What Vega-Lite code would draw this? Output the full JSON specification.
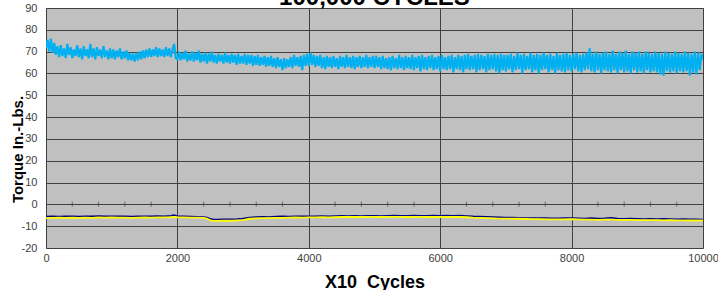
{
  "$schema": "https://vega.github.io/schema/vega-lite/v6.json",
  "autosize": {"type": "none"},
  "width": 657,
  "height": 240,
  "padding": {"left": 46, "top": 8, "right": 15, "bottom": 42},
  "background": "white",
  "title": {"text": "100,000 CYCLES", "font": "Liberation Sans", "fontSize": 24, "fontWeight": "bold", "color": "black", "anchor": "middle", "frame": "group", "baseline": "alphabetic", "offset": -2, "dy": 25},
  "config": {
    "view": {"fill": "#C0C0C0", "stroke": "#808080", "strokeWidth": 1},
    "axis": {"labelFont": "Liberation Sans", "labelFontSize": 11, "labelColor": "#404040", "titleFont": "Liberation Sans", "titleColor": "black", "gridColor": "#404040", "gridOpacity": 1, "gridWidth": 1, "domain": false, "ticks": false, "labelOverlap": false, "labelFlush": false}
  },
  "datasets": {
    "blue": [
{"x":0,"y":71.5},{"x":25,"y":75.5},{"x":50,"y":70.0},{"x":75,"y":76.0},{"x":100,"y":69.5},{"x":125,"y":74.0},{"x":150,"y":68.5},{"x":175,"y":72.5},{"x":200,"y":67.5},{"x":225,"y":73.0},{"x":250,"y":68.0},{"x":275,"y":71.5},{"x":300,"y":67.0},{"x":325,"y":73.5},{"x":350,"y":68.5},{"x":375,"y":72.0},{"x":400,"y":67.0},{"x":425,"y":71.0},{"x":450,"y":68.0},{"x":475,"y":73.0},{"x":500,"y":67.5},{"x":525,"y":71.5},{"x":550,"y":66.5},{"x":575,"y":72.5},{"x":600,"y":68.0},{"x":625,"y":71.0},{"x":650,"y":67.0},{"x":675,"y":73.5},{"x":700,"y":67.5},{"x":725,"y":71.5},{"x":750,"y":66.5},{"x":775,"y":72.0},{"x":800,"y":68.0},{"x":825,"y":71.0},{"x":850,"y":67.0},{"x":875,"y":72.5},{"x":900,"y":67.5},{"x":925,"y":70.5},{"x":950,"y":66.5},{"x":975,"y":71.5},
{"x":1000,"y":67.0},{"x":1025,"y":71.0},{"x":1050,"y":66.5},{"x":1075,"y":70.5},{"x":1100,"y":67.5},{"x":1125,"y":71.5},{"x":1150,"y":66.5},{"x":1175,"y":70.0},{"x":1200,"y":67.0},{"x":1225,"y":70.5},{"x":1250,"y":66.0},{"x":1275,"y":69.5},{"x":1300,"y":66.0},{"x":1325,"y":69.0},{"x":1350,"y":65.5},{"x":1375,"y":69.5},{"x":1400,"y":66.0},{"x":1425,"y":70.0},{"x":1450,"y":66.5},{"x":1475,"y":70.5},{"x":1500,"y":67.0},{"x":1525,"y":71.0},{"x":1550,"y":67.5},{"x":1575,"y":71.5},{"x":1600,"y":67.5},{"x":1625,"y":71.0},{"x":1650,"y":68.0},{"x":1675,"y":72.0},{"x":1700,"y":67.5},{"x":1725,"y":71.5},{"x":1750,"y":68.0},{"x":1775,"y":71.0},{"x":1800,"y":67.5},{"x":1825,"y":72.0},{"x":1850,"y":68.0},{"x":1875,"y":71.5},{"x":1900,"y":67.5},{"x":1925,"y":71.0},{"x":1950,"y":73.5},{"x":1975,"y":67.0},
{"x":2000,"y":66.5},{"x":2025,"y":70.0},{"x":2050,"y":66.0},{"x":2075,"y":69.5},{"x":2100,"y":66.5},{"x":2125,"y":70.5},{"x":2150,"y":65.5},{"x":2175,"y":69.0},{"x":2200,"y":66.0},{"x":2225,"y":70.0},{"x":2250,"y":65.5},{"x":2275,"y":69.5},{"x":2300,"y":66.0},{"x":2325,"y":70.5},{"x":2350,"y":65.0},{"x":2375,"y":69.0},{"x":2400,"y":65.5},{"x":2425,"y":69.5},{"x":2450,"y":64.5},{"x":2475,"y":69.0},{"x":2500,"y":65.5},{"x":2525,"y":70.0},{"x":2550,"y":65.0},{"x":2575,"y":68.5},{"x":2600,"y":64.5},{"x":2625,"y":69.0},{"x":2650,"y":65.5},{"x":2675,"y":68.5},{"x":2700,"y":64.5},{"x":2725,"y":69.5},{"x":2750,"y":65.0},{"x":2775,"y":68.5},{"x":2800,"y":64.5},{"x":2825,"y":69.0},{"x":2850,"y":65.0},{"x":2875,"y":68.5},{"x":2900,"y":64.0},{"x":2925,"y":69.0},{"x":2950,"y":64.5},{"x":2975,"y":68.0},
{"x":3000,"y":64.5},{"x":3025,"y":69.0},{"x":3050,"y":64.0},{"x":3075,"y":68.5},{"x":3100,"y":64.5},{"x":3125,"y":68.5},{"x":3150,"y":63.5},{"x":3175,"y":68.0},{"x":3200,"y":64.0},{"x":3225,"y":68.5},{"x":3250,"y":63.5},{"x":3275,"y":67.5},{"x":3300,"y":64.0},{"x":3325,"y":68.0},{"x":3350,"y":63.0},{"x":3375,"y":67.5},{"x":3400,"y":63.5},{"x":3425,"y":68.0},{"x":3450,"y":63.0},{"x":3475,"y":67.0},{"x":3500,"y":62.5},{"x":3525,"y":67.5},{"x":3550,"y":63.0},{"x":3575,"y":66.5},{"x":3600,"y":61.5},{"x":3625,"y":67.0},{"x":3650,"y":62.5},{"x":3675,"y":66.5},{"x":3700,"y":63.0},{"x":3725,"y":67.5},{"x":3750,"y":62.5},{"x":3775,"y":68.5},{"x":3800,"y":63.5},{"x":3825,"y":67.5},{"x":3850,"y":63.0},{"x":3875,"y":68.0},{"x":3900,"y":61.5},{"x":3925,"y":68.5},{"x":3950,"y":63.5},{"x":3975,"y":69.0},
{"x":4000,"y":63.5},{"x":4025,"y":69.5},{"x":4050,"y":64.0},{"x":4075,"y":68.5},{"x":4100,"y":63.0},{"x":4125,"y":68.0},{"x":4150,"y":63.5},{"x":4175,"y":68.5},{"x":4200,"y":62.5},{"x":4225,"y":67.5},{"x":4250,"y":62.0},{"x":4275,"y":68.0},{"x":4300,"y":63.0},{"x":4325,"y":67.5},{"x":4350,"y":62.5},{"x":4375,"y":68.0},{"x":4400,"y":63.0},{"x":4425,"y":67.0},{"x":4450,"y":62.0},{"x":4475,"y":68.0},{"x":4500,"y":63.0},{"x":4525,"y":67.5},{"x":4550,"y":62.5},{"x":4575,"y":68.5},{"x":4600,"y":63.0},{"x":4625,"y":67.5},{"x":4650,"y":62.5},{"x":4675,"y":68.0},{"x":4700,"y":62.0},{"x":4725,"y":67.5},{"x":4750,"y":63.0},{"x":4775,"y":68.0},{"x":4800,"y":62.5},{"x":4825,"y":67.5},{"x":4850,"y":63.0},{"x":4875,"y":68.5},{"x":4900,"y":62.5},{"x":4925,"y":67.5},{"x":4950,"y":63.0},{"x":4975,"y":68.0},
{"x":5000,"y":62.5},{"x":5025,"y":68.0},{"x":5050,"y":63.0},{"x":5075,"y":67.5},{"x":5100,"y":62.0},{"x":5125,"y":68.0},{"x":5150,"y":62.5},{"x":5175,"y":67.0},{"x":5200,"y":62.0},{"x":5225,"y":67.5},{"x":5250,"y":61.5},{"x":5275,"y":68.0},{"x":5300,"y":62.5},{"x":5325,"y":67.0},{"x":5350,"y":62.0},{"x":5375,"y":68.5},{"x":5400,"y":62.5},{"x":5425,"y":67.5},{"x":5450,"y":61.5},{"x":5475,"y":68.0},{"x":5500,"y":62.5},{"x":5525,"y":67.5},{"x":5550,"y":62.0},{"x":5575,"y":68.5},{"x":5600,"y":61.5},{"x":5625,"y":67.5},{"x":5650,"y":62.5},{"x":5675,"y":68.0},{"x":5700,"y":61.0},{"x":5725,"y":68.5},{"x":5750,"y":62.0},{"x":5775,"y":67.5},{"x":5800,"y":61.5},{"x":5825,"y":68.0},{"x":5850,"y":62.5},{"x":5875,"y":68.5},{"x":5900,"y":61.5},{"x":5925,"y":67.5},{"x":5950,"y":62.0},{"x":5975,"y":68.0},
{"x":6000,"y":61.0},{"x":6025,"y":68.5},{"x":6050,"y":62.0},{"x":6075,"y":67.5},{"x":6100,"y":61.5},{"x":6125,"y":68.0},{"x":6150,"y":62.0},{"x":6175,"y":68.5},{"x":6200,"y":60.5},{"x":6225,"y":67.5},{"x":6250,"y":62.0},{"x":6275,"y":68.5},{"x":6300,"y":61.5},{"x":6325,"y":68.0},{"x":6350,"y":60.5},{"x":6375,"y":68.5},{"x":6400,"y":62.0},{"x":6425,"y":69.0},{"x":6450,"y":61.5},{"x":6475,"y":68.0},{"x":6500,"y":62.0},{"x":6525,"y":68.5},{"x":6550,"y":60.5},{"x":6575,"y":69.0},{"x":6600,"y":61.5},{"x":6625,"y":68.5},{"x":6650,"y":62.0},{"x":6675,"y":68.0},{"x":6700,"y":60.5},{"x":6725,"y":69.0},{"x":6750,"y":61.5},{"x":6775,"y":68.5},{"x":6800,"y":62.0},{"x":6825,"y":69.0},{"x":6850,"y":61.0},{"x":6875,"y":68.5},{"x":6900,"y":60.0},{"x":6925,"y":69.0},{"x":6950,"y":61.5},{"x":6975,"y":68.5},
{"x":7000,"y":61.0},{"x":7025,"y":68.5},{"x":7050,"y":62.0},{"x":7075,"y":69.0},{"x":7100,"y":60.5},{"x":7125,"y":68.0},{"x":7150,"y":61.5},{"x":7175,"y":69.5},{"x":7200,"y":62.0},{"x":7225,"y":68.5},{"x":7250,"y":60.0},{"x":7275,"y":69.0},{"x":7300,"y":61.5},{"x":7325,"y":68.0},{"x":7350,"y":62.0},{"x":7375,"y":69.5},{"x":7400,"y":60.5},{"x":7425,"y":68.5},{"x":7450,"y":61.5},{"x":7475,"y":69.0},{"x":7500,"y":60.0},{"x":7525,"y":68.5},{"x":7550,"y":61.5},{"x":7575,"y":69.5},{"x":7600,"y":62.0},{"x":7625,"y":68.5},{"x":7650,"y":60.5},{"x":7675,"y":69.0},{"x":7700,"y":61.5},{"x":7725,"y":68.0},{"x":7750,"y":60.0},{"x":7775,"y":69.5},{"x":7800,"y":61.5},{"x":7825,"y":68.5},{"x":7850,"y":61.0},{"x":7875,"y":69.0},{"x":7900,"y":60.5},{"x":7925,"y":69.5},{"x":7950,"y":61.5},{"x":7975,"y":68.5},
{"x":8000,"y":61.0},{"x":8025,"y":69.0},{"x":8050,"y":62.0},{"x":8075,"y":69.5},{"x":8100,"y":61.0},{"x":8125,"y":68.5},{"x":8150,"y":60.5},{"x":8175,"y":69.0},{"x":8200,"y":61.5},{"x":8225,"y":69.5},{"x":8250,"y":62.0},{"x":8275,"y":71.5},{"x":8300,"y":61.0},{"x":8325,"y":69.0},{"x":8350,"y":60.5},{"x":8375,"y":70.0},{"x":8400,"y":61.5},{"x":8425,"y":69.0},{"x":8450,"y":60.0},{"x":8475,"y":69.5},{"x":8500,"y":61.5},{"x":8525,"y":70.0},{"x":8550,"y":61.0},{"x":8575,"y":69.0},{"x":8600,"y":60.5},{"x":8625,"y":70.5},{"x":8650,"y":61.5},{"x":8675,"y":69.0},{"x":8700,"y":60.0},{"x":8725,"y":70.0},{"x":8750,"y":61.5},{"x":8775,"y":69.5},{"x":8800,"y":60.5},{"x":8825,"y":70.5},{"x":8850,"y":61.0},{"x":8875,"y":69.0},{"x":8900,"y":60.0},{"x":8925,"y":70.0},{"x":8950,"y":61.5},{"x":8975,"y":69.5},
{"x":9000,"y":60.5},{"x":9025,"y":70.0},{"x":9050,"y":61.0},{"x":9075,"y":69.0},{"x":9100,"y":60.0},{"x":9125,"y":70.0},{"x":9150,"y":61.5},{"x":9175,"y":69.5},{"x":9200,"y":60.5},{"x":9225,"y":69.0},{"x":9250,"y":61.0},{"x":9275,"y":70.0},{"x":9300,"y":60.5},{"x":9325,"y":69.5},{"x":9350,"y":59.5},{"x":9375,"y":69.0},{"x":9400,"y":59.0},{"x":9425,"y":70.0},{"x":9450,"y":61.0},{"x":9475,"y":69.5},{"x":9500,"y":60.5},{"x":9525,"y":69.0},{"x":9550,"y":61.0},{"x":9575,"y":70.0},{"x":9600,"y":60.0},{"x":9625,"y":69.5},{"x":9650,"y":61.0},{"x":9675,"y":69.0},{"x":9700,"y":60.5},{"x":9725,"y":70.0},{"x":9750,"y":61.0},{"x":9775,"y":69.5},{"x":9800,"y":59.0},{"x":9825,"y":69.0},{"x":9850,"y":60.5},{"x":9875,"y":70.0},{"x":9900,"y":59.5},{"x":9925,"y":69.5},{"x":9950,"y":61.5},{"x":9975,"y":69.0},{"x":10000,"y":66.5}
    ],
    "low": [
{"x":0,"n":-5.6,"w":-6.3},{"x":100,"n":-5.5,"w":-6.2},{"x":200,"n":-5.6,"w":-6.1},{"x":300,"n":-5.4,"w":-6.2},{"x":400,"n":-5.5,"w":-6.1},{"x":500,"n":-5.6,"w":-6.2},{"x":600,"n":-5.4,"w":-6.1},{"x":700,"n":-5.5,"w":-6.2},{"x":800,"n":-5.3,"w":-6.0},{"x":900,"n":-5.5,"w":-6.1},{"x":1000,"n":-5.4,"w":-6.0},{"x":1100,"n":-5.5,"w":-6.1},{"x":1200,"n":-5.4,"w":-6.1},{"x":1300,"n":-5.6,"w":-6.2},{"x":1400,"n":-5.5,"w":-6.1},{"x":1500,"n":-5.4,"w":-6.0},{"x":1600,"n":-5.5,"w":-6.1},{"x":1700,"n":-5.3,"w":-6.0},{"x":1800,"n":-5.4,"w":-6.0},{"x":1900,"n":-5.2,"w":-5.9},{"x":1950,"n":-4.9,"w":-5.8},{"x":2000,"n":-5.4,"w":-5.9},{"x":2100,"n":-5.5,"w":-6.0},{"x":2200,"n":-5.6,"w":-6.1},{"x":2300,"n":-5.7,"w":-6.1},{"x":2400,"n":-5.8,"w":-6.2},{"x":2450,"n":-6.0,"w":-6.5},{"x":2500,"n":-6.6,"w":-7.3},{"x":2550,"n":-6.9,"w":-7.6},{"x":2600,"n":-6.9,"w":-7.6},{"x":2700,"n":-6.8,"w":-7.5},{"x":2800,"n":-6.8,"w":-7.5},{"x":2900,"n":-6.7,"w":-7.4},{"x":3000,"n":-6.5,"w":-7.2},{"x":3100,"n":-6.0,"w":-6.6},{"x":3200,"n":-5.8,"w":-6.4},{"x":3300,"n":-5.7,"w":-6.3},{"x":3400,"n":-5.8,"w":-6.3},{"x":3500,"n":-5.6,"w":-6.2},{"x":3600,"n":-5.5,"w":-6.2},{"x":3700,"n":-5.6,"w":-6.1},{"x":3800,"n":-5.4,"w":-6.0},{"x":3900,"n":-5.5,"w":-6.1},{"x":4000,"n":-5.4,"w":-6.0},{"x":4100,"n":-5.5,"w":-6.0},{"x":4200,"n":-5.3,"w":-5.9},{"x":4300,"n":-5.4,"w":-6.0},{"x":4400,"n":-5.3,"w":-5.9},{"x":4500,"n":-5.2,"w":-5.8},{"x":4600,"n":-5.3,"w":-5.8},{"x":4700,"n":-5.2,"w":-5.7},{"x":4800,"n":-5.3,"w":-5.8},{"x":4900,"n":-5.2,"w":-5.7},{"x":5000,"n":-5.2,"w":-5.7},{"x":5100,"n":-5.3,"w":-5.8},{"x":5200,"n":-5.2,"w":-5.7},{"x":5300,"n":-5.1,"w":-5.7},{"x":5400,"n":-5.2,"w":-5.7},{"x":5500,"n":-5.2,"w":-5.8},{"x":5600,"n":-5.1,"w":-5.7},{"x":5700,"n":-5.2,"w":-5.7},{"x":5800,"n":-5.2,"w":-5.8},{"x":5900,"n":-5.1,"w":-5.7},{"x":6000,"n":-5.2,"w":-5.8},{"x":6100,"n":-5.1,"w":-5.7},{"x":6200,"n":-5.2,"w":-5.8},{"x":6300,"n":-5.1,"w":-5.8},{"x":6400,"n":-5.3,"w":-5.9},{"x":6500,"n":-5.5,"w":-6.1},{"x":6600,"n":-5.6,"w":-6.2},{"x":6700,"n":-5.7,"w":-6.3},{"x":6800,"n":-5.8,"w":-6.4},{"x":6900,"n":-5.9,"w":-6.5},{"x":7000,"n":-6.0,"w":-6.5},{"x":7100,"n":-6.0,"w":-6.6},{"x":7200,"n":-6.1,"w":-6.6},{"x":7300,"n":-6.2,"w":-6.7},{"x":7400,"n":-6.2,"w":-6.8},{"x":7500,"n":-6.3,"w":-6.8},{"x":7600,"n":-6.3,"w":-6.9},{"x":7700,"n":-6.4,"w":-6.9},{"x":7800,"n":-6.4,"w":-6.9},{"x":7900,"n":-6.3,"w":-6.9},{"x":8000,"n":-6.3,"w":-6.8},{"x":8100,"n":-6.4,"w":-6.9},{"x":8200,"n":-6.5,"w":-7.0},{"x":8300,"n":-6.3,"w":-7.0},{"x":8400,"n":-6.5,"w":-7.1},{"x":8500,"n":-6.4,"w":-7.0},{"x":8600,"n":-6.1,"w":-7.0},{"x":8700,"n":-6.5,"w":-7.1},{"x":8800,"n":-6.6,"w":-7.1},{"x":8900,"n":-6.5,"w":-7.1},{"x":9000,"n":-6.6,"w":-7.2},{"x":9100,"n":-6.7,"w":-7.2},{"x":9200,"n":-6.6,"w":-7.2},{"x":9300,"n":-6.7,"w":-7.2},{"x":9400,"n":-6.6,"w":-7.3},{"x":9500,"n":-6.7,"w":-7.2},{"x":9600,"n":-6.8,"w":-7.3},{"x":9700,"n":-6.7,"w":-7.3},{"x":9800,"n":-6.8,"w":-7.4},{"x":9900,"n":-6.8,"w":-7.3},{"x":10000,"n":-6.9,"w":-7.4}
    ],
    "minor": [
{"t":400},{"t":800},{"t":1200},{"t":1600},{"t":2400},{"t":2800},{"t":3200},{"t":3600},{"t":4400},{"t":4800},{"t":5200},{"t":5600},{"t":6400},{"t":6800},{"t":7200},{"t":7600},{"t":8400},{"t":8800},{"t":9200},{"t":9600}
    ]
  },
  "layer": [
    {
      "data": {"name": "blue"},
      "mark": {"type": "line", "color": "#00B0F0", "strokeWidth": 2.2, "clip": true},
      "encoding": {
        "x": {"field": "x", "type": "quantitative", "scale": {"domain": [0, 10000], "nice": false, "zero": false},
          "axis": {"values": [0, 2000, 4000, 6000, 8000, 10000], "format": "d", "grid": true, "labelPadding": 4, "title": "X10\u00a0 Cycles", "titleFontSize": 18, "titleFontWeight": "bold", "titleY": 34, "titleBaseline": "middle"}},
        "y": {"field": "y", "type": "quantitative", "scale": {"domain": [-20, 90], "nice": false, "zero": false},
          "axis": {"values": [-20, -10, 0, 10, 20, 30, 40, 50, 60, 70, 80, 90], "labelExpr": "'' + datum.value", "grid": true, "labelPadding": 9, "title": "Torque In.-Lbs.", "titleFontSize": 15, "titleFontWeight": "bold", "titleX": -29, "titleY": 141, "titleBaseline": "middle", "titleAlign": "center", "titleAngle": -90}}
      }
    },
    {
      "data": {"name": "minor"},
      "mark": {"type": "tick", "orient": "vertical", "color": "#404040", "size": 5, "thickness": 1},
      "encoding": {
        "x": {"field": "t", "type": "quantitative", "scale": {"domain": [0, 10000], "nice": false, "zero": false},
          "axis": {"values": [0, 2000, 4000, 6000, 8000, 10000], "format": "d", "grid": true, "labelPadding": 4, "title": "X10\u00a0 Cycles", "titleFontSize": 18, "titleFontWeight": "bold", "titleY": 34, "titleBaseline": "middle"}},
        "y": {"datum": 0, "type": "quantitative", "scale": {"domain": [-20, 90], "nice": false, "zero": false},
          "axis": {"values": [-20, -10, 0, 10, 20, 30, 40, 50, 60, 70, 80, 90], "labelExpr": "'' + datum.value", "grid": true, "labelPadding": 9, "title": "Torque In.-Lbs.", "titleFontSize": 15, "titleFontWeight": "bold", "titleX": -29, "titleY": 141, "titleBaseline": "middle", "titleAlign": "center", "titleAngle": -90}}
      }
    },
    {
      "data": {"name": "low"},
      "mark": {"type": "line", "color": "#000080", "strokeWidth": 1.5},
      "encoding": {
        "x": {"field": "x", "type": "quantitative", "scale": {"domain": [0, 10000], "nice": false, "zero": false},
          "axis": {"values": [0, 2000, 4000, 6000, 8000, 10000], "format": "d", "grid": true, "labelPadding": 4, "title": "X10\u00a0 Cycles", "titleFontSize": 18, "titleFontWeight": "bold", "titleY": 34, "titleBaseline": "middle"}},
        "y": {"field": "n", "type": "quantitative", "scale": {"domain": [-20, 90], "nice": false, "zero": false},
          "axis": {"values": [-20, -10, 0, 10, 20, 30, 40, 50, 60, 70, 80, 90], "labelExpr": "'' + datum.value", "grid": true, "labelPadding": 9, "title": "Torque In.-Lbs.", "titleFontSize": 15, "titleFontWeight": "bold", "titleX": -29, "titleY": 141, "titleBaseline": "middle", "titleAlign": "center", "titleAngle": -90}}
      }
    },
    {
      "data": {"name": "low"},
      "mark": {"type": "line", "color": "#FFFF00", "strokeWidth": 1.8},
      "encoding": {
        "x": {"field": "x", "type": "quantitative", "scale": {"domain": [0, 10000], "nice": false, "zero": false},
          "axis": {"values": [0, 2000, 4000, 6000, 8000, 10000], "format": "d", "grid": true, "labelPadding": 4, "title": "X10\u00a0 Cycles", "titleFontSize": 18, "titleFontWeight": "bold", "titleY": 34, "titleBaseline": "middle"}},
        "y": {"field": "w", "type": "quantitative", "scale": {"domain": [-20, 90], "nice": false, "zero": false},
          "axis": {"values": [-20, -10, 0, 10, 20, 30, 40, 50, 60, 70, 80, 90], "labelExpr": "'' + datum.value", "grid": true, "labelPadding": 9, "title": "Torque In.-Lbs.", "titleFontSize": 15, "titleFontWeight": "bold", "titleX": -29, "titleY": 141, "titleBaseline": "middle", "titleAlign": "center", "titleAngle": -90}}
      }
    }
  ]
}
